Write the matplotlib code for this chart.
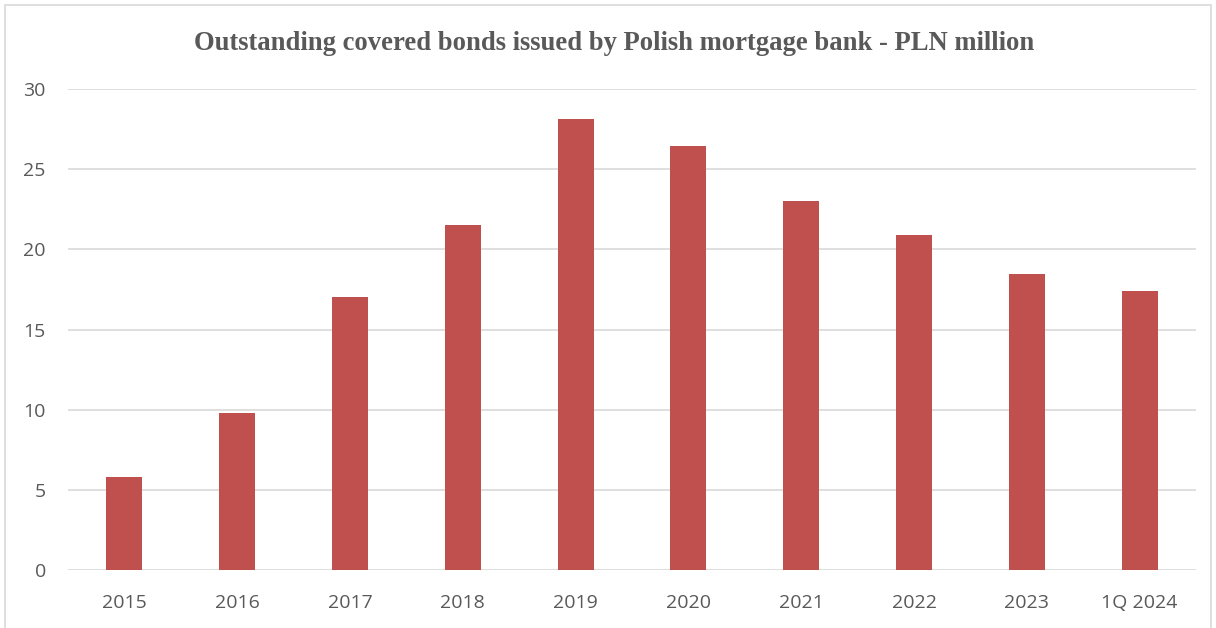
import matplotlib.pyplot as plt
from matplotlib.patches import Rectangle

years = ["2015", "2016", "2017", "2018", "2019", "2020", "2021", "2022", "2023", "1Q 2024"]
bonds = [5.8, 9.8, 17.0, 21.5, 28.1, 26.45, 23.0, 20.9, 18.47, 17.4]
yticks = [0, 5, 10, 15, 20, 25, 30]

fig = plt.figure(figsize=(12.16, 6.28), dpi=100)
ax = fig.add_axes([68 / 1216, 58 / 628, 1128 / 1216, 481 / 628])

x = range(len(years))
ax.bar(x, bonds, width=0.32, color="#C0504D", zorder=3)

ax.set_xlim(-0.5, len(years) - 0.5)
ax.set_ylim(0, 30)
ax.set_yticks(yticks)
ax.set_xticks(list(x))
ax.set_xticklabels(years)
ax.yaxis.grid(True, color="#D9D9D9", linewidth=1.2, zorder=0)
for s in ax.spines.values():
    s.set_visible(False)
ax.tick_params(length=0, labelsize=14, labelcolor="#595959")
ax.tick_params(axis="x", pad=17)
ax.tick_params(axis="y", pad=16)
for lbl in ax.get_xticklabels() + ax.get_yticklabels():
    lbl.set_fontfamily("Open Sans")

fig.text(0.505, 0.931, "Outstanding covered bonds issued by Polish mortgage bank - PLN million",
         ha="center", va="center", fontsize=19.2, fontweight="bold",
         family="Liberation Serif", color="#595959")

fig.patches.append(Rectangle((5 / 1216, -0.05), 1206 / 1216, 1.05 - 5 / 628,
                             transform=fig.transFigure, fill=False,
                             edgecolor="#D9D9D9", linewidth=1.2))

fig.savefig("out.png", dpi=100)
